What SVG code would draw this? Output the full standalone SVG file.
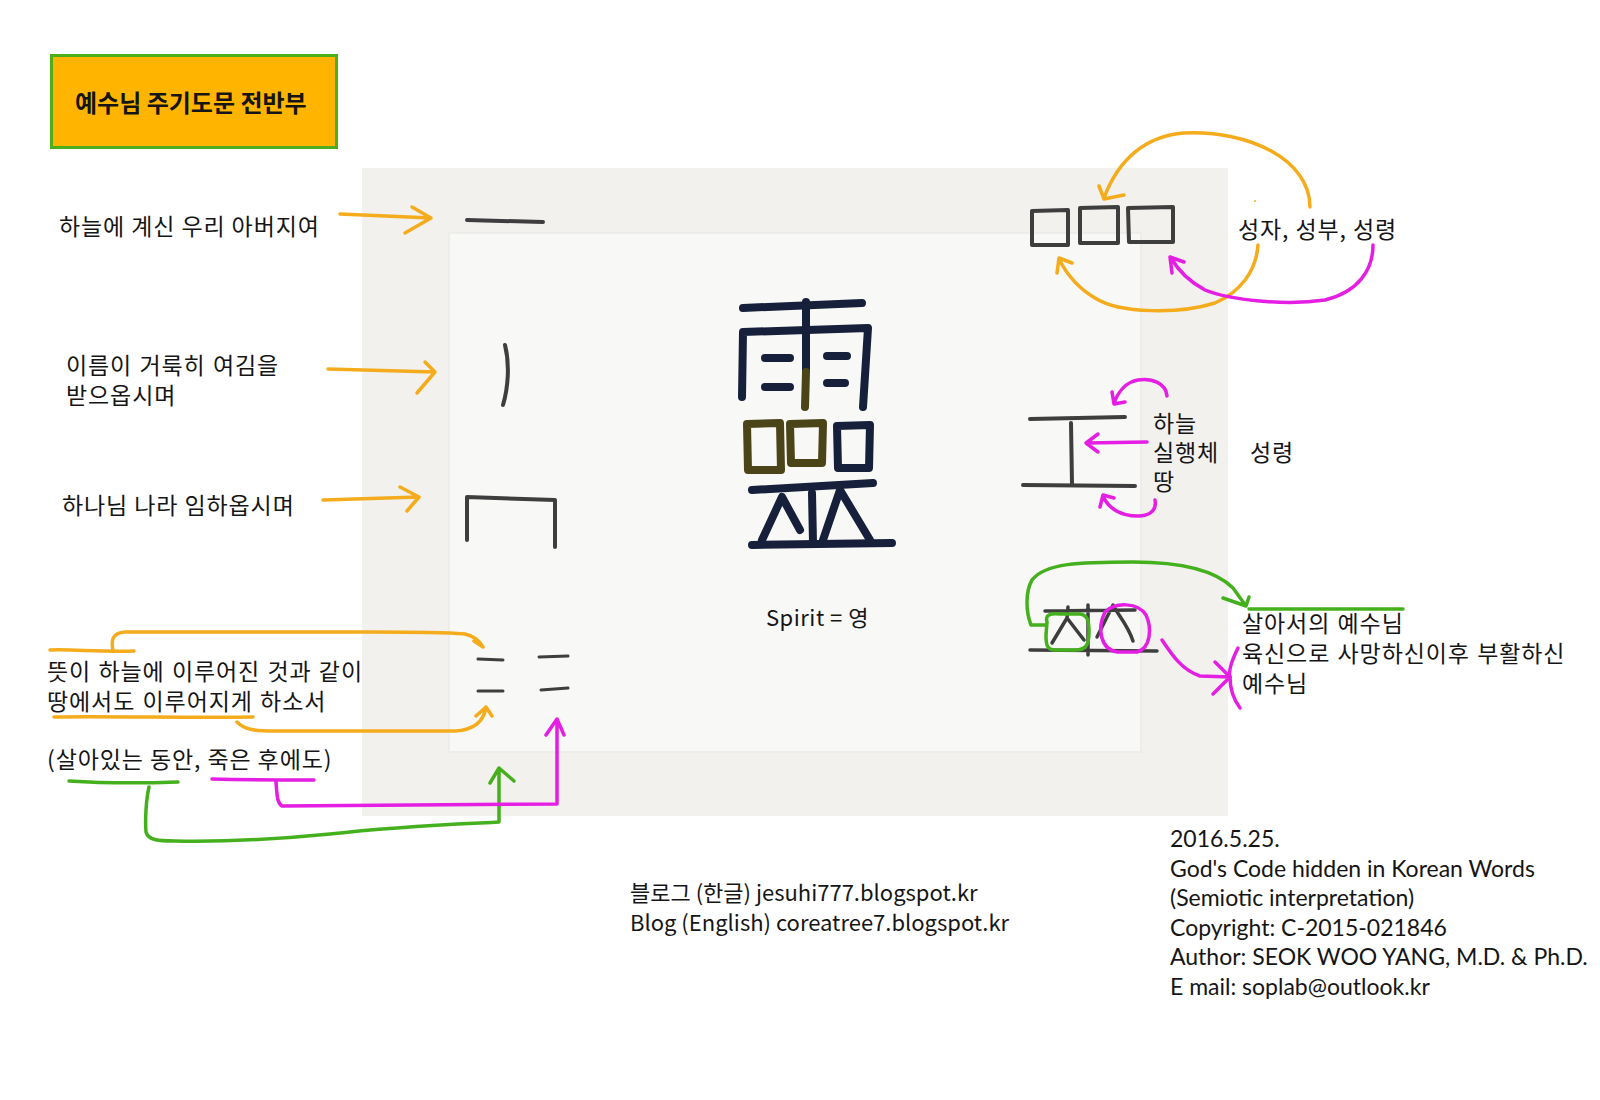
<svg xmlns="http://www.w3.org/2000/svg" width="1600" height="1100" viewBox="0 0 1600 1100">
<style>
.t{font-family:"Noto Sans CJK KR","Noto Sans",sans-serif;font-size:23px;letter-spacing:0.9px;fill:#151515}
.k{font-family:"Liberation Sans","Noto Sans CJK KR",sans-serif;font-size:23px;letter-spacing:0.9px;fill:#151515}
.b{font-family:"Noto Sans CJK KR","Noto Sans",sans-serif;font-size:22px;fill:#151515}
.r{font-family:Lato,"Noto Sans",sans-serif;font-size:23px;fill:#151515}
.o{fill:none;stroke:#F4AC1C;stroke-width:3.5;stroke-linecap:round;stroke-linejoin:round}
.g{fill:none;stroke:#45B01E;stroke-width:3.5;stroke-linecap:round;stroke-linejoin:round}
.m{fill:none;stroke:#E41EE2;stroke-width:3.5;stroke-linecap:round;stroke-linejoin:round}
.p{fill:none;stroke:#3E3E3E;stroke-width:4;stroke-linecap:round;stroke-linejoin:round}
.n{fill:none;stroke:#17203A;stroke-width:8;stroke-linecap:round;stroke-linejoin:round}
.v{fill:none;stroke:#4A4418;stroke-width:8;stroke-linecap:round;stroke-linejoin:round}
</style>
<rect width="1600" height="1100" fill="#FFFFFF"/>
<g id="photo">
<rect x="362" y="168" width="866" height="648" fill="#F2F1EE"/>
<rect x="449" y="233" width="692" height="519" fill="#F8F8F6" stroke="#EBEAE7" stroke-width="1.5"/>
</g>
<g id="title">
<rect x="51.5" y="55.5" width="285" height="92" fill="#FFB400" stroke="#4CAF1A" stroke-width="3"/>
<text x="75" y="112" class="t" style="font-size:24px;font-weight:bold;letter-spacing:0">예수님 주기도문 전반부</text>
</g>
<g id="labels-left">
<text x="59" y="235" class="t">하늘에 계신 우리 아버지여</text>
<text class="k"><tspan x="66" y="374">이름이 거룩히 여김을</tspan><tspan x="66" y="404">받으옵시며</tspan></text>
<text x="62" y="514" class="t">하나님 나라 임하옵시며</text>
<text class="k"><tspan x="47" y="680">뜻이 하늘에 이루어진 것과 같이</tspan><tspan x="47" y="710">땅에서도 이루어지게 하소서</tspan></text>
<text x="47" y="768" class="t">(살아있는 동안, 죽은 후에도)</text>
</g>
<g id="strokes-left">
<path class="p" d="M467,220 L543,222"/>
<path class="p" d="M505,345 C510,365 508,388 503,405"/>
<path class="p" d="M467,540 L467,497 L555,500 L555,547"/>
<path class="p" style="stroke-width:3" d="M478,659 L503,660"/>
<path class="p" style="stroke-width:3" d="M539,657 L568,656"/>
<path class="p" style="stroke-width:3" d="M478,691 L503,691"/>
<path class="p" style="stroke-width:3" d="M541,690 L568,688"/>
</g>
<g id="character-spirit">
<path class="n" d="M743,308 L862,303"/>
<path class="n" d="M806,302 L806,370"/>
<path class="v" d="M806,372 L805,407"/>
<path class="n" d="M742,397 L743,332 L868,328 L863,407"/>
<path class="n" d="M765,358 L790,358 M765,387 L790,387 M827,356 L847,356 M827,383 L845,383"/>
<path class="v" d="M747,424 L780,423 L781,470 L748,470 Z"/>
<path class="v" d="M790,424 L823,423 L822,463 L791,463 Z"/>
<path class="n" d="M837,426 L870,425 L869,468 L838,468 Z"/>
<path class="n" d="M752,490 L873,483"/>
<path class="n" d="M762,540 L782,497 L800,530"/>
<path class="n" d="M812,493 L813,543"/>
<path class="n" d="M823,540 L840,490 L870,540"/>
<path class="n" d="M752,545 L892,543"/>
<text x="766" y="626" class="t" style="font-size:22px;letter-spacing:0.5px" xml:space="preserve">Spirit = 영</text>
</g>
<g id="trinity">
<path class="p" d="M1032,211 L1068,210 L1068,245 L1032,245 Z"/>
<path class="p" d="M1080,208 L1118,207 L1118,243 L1080,243 Z"/>
<path class="p" d="M1128,208 L1173,207 L1173,242 L1129,242 Z"/>
<circle cx="1255" cy="201" r="1" fill="#F4AC1C"/>
<text x="1238" y="238" class="t">성자, 성부, 성령</text>
</g>
<g id="earth-heaven">
<path class="p" d="M1030,419 L1125,417 M1071,423 L1072,484 M1023,485 L1135,486"/>
<text class="k"><tspan x="1153" y="432">하늘</tspan><tspan x="1153" y="461">실행체</tspan><tspan x="1153" y="490">땅</tspan></text>
<text x="1250" y="461" class="t">성령</text>
</g>
<g id="jesus">
<path class="p" style="stroke-width:3.5" d="M1045,611 L1135,610 M1030,650 L1157,651 M1088,605 L1088,655 M1068,607 L1067,618 M1052,643 L1067,618 L1084,640 M1097,637 L1113,605 C1118,615 1128,625 1133,641"/>
<path class="g" d="M1047,622 C1045,615 1050,613 1060,614 L1080,614 C1088,615 1089,622 1089,632 C1089,645 1086,650 1075,650 L1055,650 C1047,650 1046,645 1046,635 Z"/>
<path class="m" d="M1105,612 C1115,602 1138,602 1146,615 C1152,628 1151,648 1137,652 L1118,652 C1100,650 1097,628 1105,612 Z"/>
<text class="k"><tspan x="1242" y="632">살아서의 예수님</tspan><tspan x="1242" y="662">육신으로 사망하신이후 부활하신</tspan><tspan x="1242" y="692">예수님</tspan></text>
</g>
<g id="connectors">
<path class="o" d="M340,214 L431,218 M412,207 L431,218 L405,233"/>
<path class="o" d="M328,369 L435,372 M425,362 L435,372 L417,393"/>
<path class="o" d="M323,500 L419,497 M400,487 L419,497 L407,511"/>
<path class="o" d="M50,650 C70,649 100,652 134,651"/>
<path class="o" d="M113,651 C111,640 112,633 125,632 L300,632 C380,632 445,631 465,634 C474,636 479,640 483,647 M474,641 L483,647"/>
<path class="o" d="M54,717 C100,716 200,718 253,717"/>
<path class="o" d="M237,722 C245,730 255,731 275,731 L455,731 C475,730 484,720 486,707 M476,716 L486,707 L492,716"/>
<path class="g" d="M69,781 C100,783 150,783 178,782"/>
<path class="g" d="M149,787 C146,800 145,820 146,832 C148,840 158,841 175,841 C230,842 290,838 330,834 C400,826 460,824 499,822 L499,769 M490,783 L499,768 L514,781"/>
<path class="m" d="M212,779 C250,780 290,780 314,780"/>
<path class="m" d="M276,782 C277,795 277,803 282,806 L557,804 L557,720 M546,735 L557,719 L564,735"/>
<path class="o" d="M1310,207 C1310,160 1250,130 1184,133 C1145,136 1118,160 1104,198 M1099,186 L1104,199 L1124,195"/>
<path class="o" d="M1258,245 C1256,272 1240,292 1215,303 C1180,314 1120,314 1095,298 C1078,288 1066,273 1059,259 M1057,273 L1059,258 L1072,263"/>
<path class="m" d="M1373,245 C1373,270 1358,292 1325,300 C1285,306 1230,300 1205,290 C1190,282 1178,270 1171,258 M1172,273 L1170,257 L1184,262"/>
<path class="m" d="M1167,396 C1166,383 1152,378 1138,380 C1126,382 1118,392 1114,403 M1112,392 L1114,404 L1125,402"/>
<path class="m" d="M1147,442 L1086,443 M1098,434 L1086,443 L1098,452"/>
<path class="m" d="M1155,500 C1157,510 1150,516 1138,516 C1120,516 1108,508 1103,496 M1100,507 L1103,495 L1114,498"/>
<path class="g" d="M1046,625 L1031,625 C1026,612 1025,592 1032,580 C1045,563 1080,562 1133,562 C1180,562 1215,570 1233,588 L1246,606 M1223,598 L1246,606 L1249,597"/>
<path class="g" d="M1249,609 L1403,609"/>
<path class="m" d="M1162,640 C1172,655 1182,670 1200,676 L1230,677 M1215,662 L1230,677 L1213,694"/>
<path class="m" d="M1238,648 C1232,660 1228,670 1230,677 C1230,690 1234,700 1240,708"/>
</g>
<g id="footer">
<text class="b"><tspan x="630" y="901">블로그 (한글) jesuhi777.blogspot.kr</tspan><tspan x="630" y="931">Blog (English) coreatree7.blogspot.kr</tspan></text>
<text class="r"><tspan x="1170" y="847">2016.5.25.</tspan><tspan x="1170" y="877">God's Code hidden in Korean Words</tspan><tspan x="1170" y="906">(Semiotic interpretation)</tspan><tspan x="1170" y="936">Copyright: C-2015-021846</tspan><tspan x="1170" y="965">Author: SEOK WOO YANG, M.D. &amp; Ph.D.</tspan><tspan x="1170" y="995">E mail: soplab@outlook.kr</tspan></text>
</g>
</svg>
